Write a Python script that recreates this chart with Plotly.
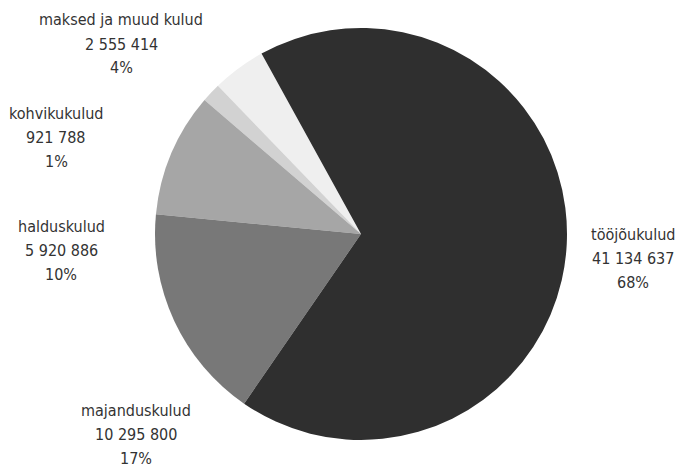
import plotly.graph_objects as go

categories = ["maksed ja muud kulud", "kohvikukulud", "halduskulud", "majanduskulud", "tööjõukulud"]
values = [2555414, 921788, 5920886, 10295800, 41134637]
value_labels = ["2 555 414", "921 788", "5 920 886", "10 295 800", "41 134 637"]
pct_labels = ["4%", "1%", "10%", "17%", "68%"]
colors = ["#efefef", "#d2d2d2", "#a6a6a6", "#787878", "#2f2f2f"]

# page offset of the plot (browser body margin)
off = 8
# label centre positions in target pixels (x, y of middle line)
label_pos = [(121, 44), (56, 137), (61, 250), (136, 434), (633, 258)]
line_gap = 24

W, H = 693, 467
cx, cy, r = 361 - off, 234 - off, 206

fig = go.Figure(go.Pie(
    labels=categories,
    values=values,
    sort=False,
    direction="counterclockwise",
    rotation=-44,
    marker=dict(colors=colors, line=dict(width=0)),
    textinfo="none",
    hoverinfo="label+value+percent",
    showlegend=False,
    domain=dict(x=[(cx - r) / W, (cx + r) / W], y=[(H - cy - r) / H, (H - cy + r) / H]),
))

font = dict(family="DejaVu Sans Condensed, Liberation Sans Narrow, sans-serif", size=16, color="#333333")
for cat, vl, pl, (px, py) in zip(categories, value_labels, pct_labels, label_pos):
    for k, line in enumerate([cat, vl, pl]):
        yy = py + (k - 1) * line_gap - off
        fig.add_annotation(
            x=(px - off) / W, y=1 - yy / H, xref="paper", yref="paper",
            text=line, showarrow=False, xanchor="center", yanchor="middle",
            font=font,
        )

fig.update_layout(
    width=W, height=H,
    margin=dict(l=0, r=0, t=0, b=0),
    paper_bgcolor="white", plot_bgcolor="white",
)

fig.write_html("out.html")
